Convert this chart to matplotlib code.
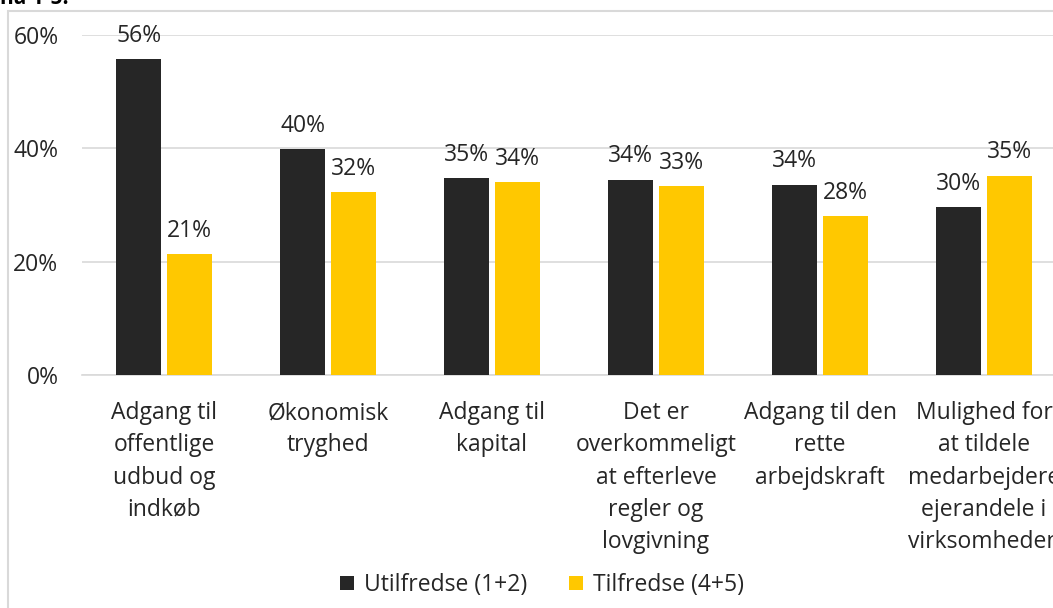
import matplotlib.pyplot as plt
import numpy as np
from matplotlib.patches import Rectangle

# Data
categories = ['Adgang til\noffentlige\nudbud og\nindkøb',
              'Økonomisk\ntryghed',
              'Adgang til\nkapital',
              'Det er\noverkommeligt\nat efterleve\nregler og\nlovgivning',
              'Adgang til den\nrette\narbejdskraft',
              'Mulighed for\nat tildele\nmedarbejdere\nejerandele i\nvirksomheden']
utilfredse = [55.7, 39.8, 34.7, 34.5, 33.6, 29.7]
tilfredse = [21.4, 32.3, 34.0, 33.3, 28.0, 35.2]
utilfredse_labels = ['56%', '40%', '35%', '34%', '34%', '30%']
tilfredse_labels = ['21%', '32%', '34%', '33%', '28%', '35%']

plt.rcParams['font.family'] = ['Open Sans', 'DejaVu Sans']
text_color = '#262626'
dark = '#262626'
yellow = '#FFC800'
grid_color = '#D9D9D9'
fs = 16.5

W, H = 1053, 608
fig = plt.figure(figsize=(W / 100, H / 100), dpi=100)

# chart border (the screenshot is cut on the right and bottom)
fig.patches.append(Rectangle((8 / W, -0.1), 1.2, (H - 11) / H + 0.1,
                             transform=fig.transFigure, fill=False,
                             edgecolor=grid_color, linewidth=1.5))
# clipped title at the very top
fig.text(0.0, 1.0 + 1 / H, 'na 1-5.', ha='left', va='center',
         fontsize=15, weight='bold', color='#000000')

# plot area: x 82..1066 px, y 35 (60%) .. 375 (0%)
left, right = 82, 1066
top, bottom = 35, 375
ax = fig.add_axes([left / W, 1 - bottom / H, (right - left) / W, (bottom - top) / H])

x = np.arange(len(categories))
width = 0.27
off = 0.155
b1 = ax.bar(x - off, utilfredse, width, color=dark, label='Utilfredse (1+2)', zorder=3)
b2 = ax.bar(x + off, tilfredse, width, color=yellow, label='Tilfredse (4+5)', zorder=3)

for rect, lab in zip(b1, utilfredse_labels):
    ax.annotate(lab, (rect.get_x() + rect.get_width() / 2, rect.get_height()),
                xytext=(0, 8), textcoords='offset points', ha='center', va='bottom',
                fontsize=fs, color=text_color)
for rect, lab in zip(b2, tilfredse_labels):
    ax.annotate(lab, (rect.get_x() + rect.get_width() / 2, rect.get_height()),
                xytext=(0, 8), textcoords='offset points', ha='center', va='bottom',
                fontsize=fs, color=text_color)

ax.set_xlim(-0.5, len(categories) - 0.5)
ax.set_ylim(0, 60)
ax.set_yticks([0, 20, 40, 60])
ax.set_yticklabels(['0%', '20%', '40%', '60%'])
ax.set_xticks(x)
ax.set_xticklabels(categories, linespacing=1.45)
ax.tick_params(axis='both', length=0, labelsize=fs, colors=text_color)
ax.tick_params(axis='x', pad=19)
ax.tick_params(axis='y', pad=17)
ax.grid(axis='y', color=grid_color, linewidth=1.2, zorder=0)
for s in ['top', 'right', 'left']:
    ax.spines[s].set_visible(False)
ax.spines['bottom'].set_color(grid_color)
ax.spines['bottom'].set_linewidth(1.2)
ax.set_facecolor('none')

fig.legend(loc='center', bbox_to_anchor=(542 / W, 1 - 585 / H), ncol=2,
           frameon=False, fontsize=fs, handlelength=0.6, handleheight=0.6,
           columnspacing=1.8, handletextpad=0.45, labelcolor=text_color)

fig.savefig('out.png', dpi=100)
